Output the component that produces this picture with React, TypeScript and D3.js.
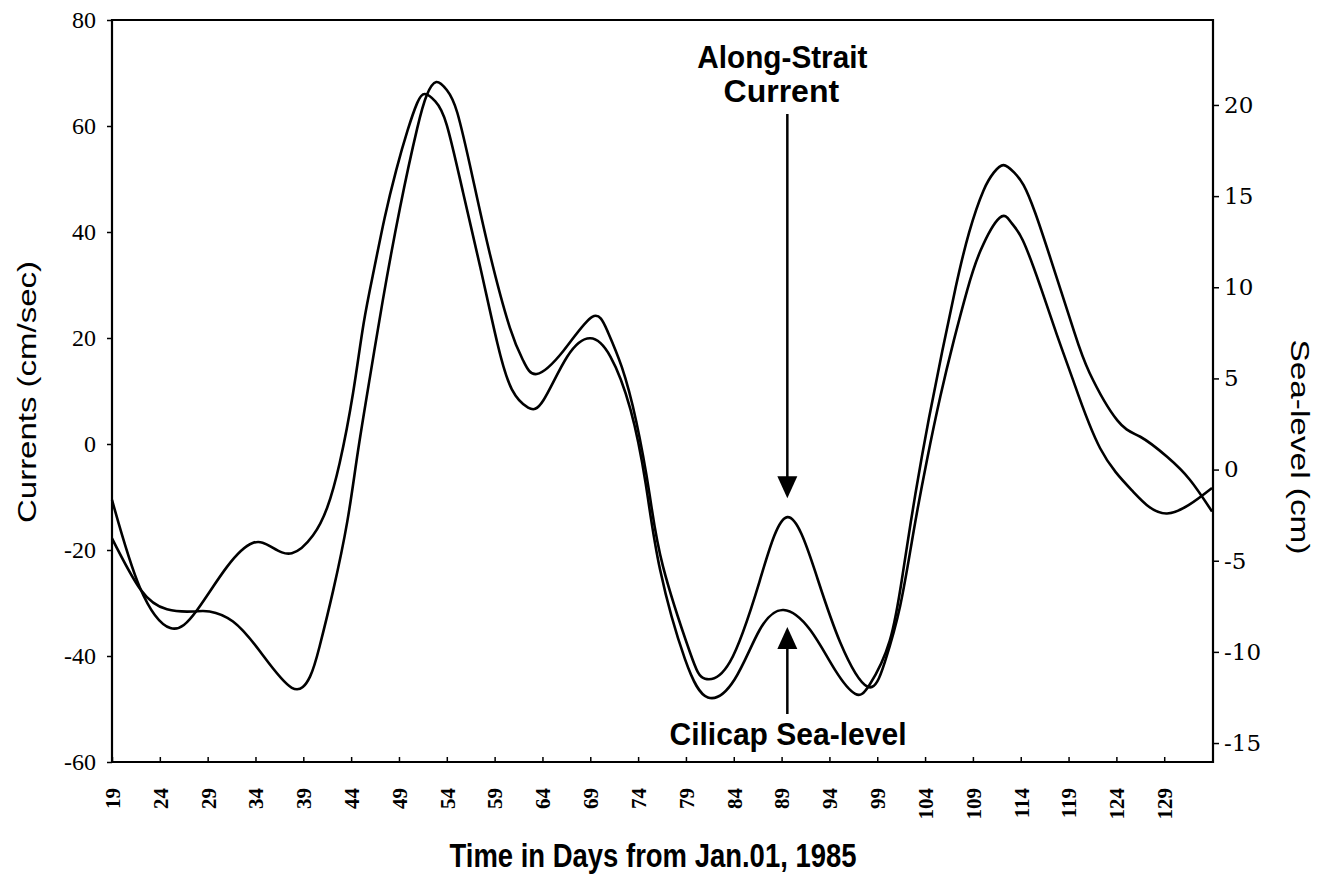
import { useEffect, useRef } from "react";
import * as d3 from "d3";

// Along-Strait current (cm/sec), left axis
const currentDays = [19, 22.0, 24.75, 27.5, 29.2, 31.65, 34.5, 37.8, 39.7, 40.7, 42.1, 43.6, 44.7, 46.0, 47.3, 49.1, 50.9, 51.9, 52.9, 54.0, 55.1, 56.7, 58.5, 60.6, 62.0, 63.4, 66.2, 69.2, 70.8, 72.3, 73.8, 75.2, 76.6, 79.4, 81.0, 83.6, 86.7, 89.6, 92.5, 95.1, 98.0, 99.8, 101.4, 102.8, 104.2, 105.6, 107.0, 108.4, 109.8, 111.8, 113.0, 114.2, 116.0, 117.8, 119.5, 122.3, 125.7, 129.3, 134.0];
const currentValues = [-17.8, -27.5, -31.2, -31.6, -31.6, -33.5, -39.2, -46.0, -43.9, -38.2, -27.8, -14.6, -1.5, 13.0, 27.0, 44.5, 59.5, 65.8, 68.3, 66.8, 62.5, 50.3, 35.9, 21.9, 15.7, 13.2, 17.6, 24.0, 21.3, 14.5, 4.3, -9.5, -23.1, -39.2, -44.3, -41.1, -25.9, -13.8, -24.0, -37.3, -45.8, -41.1, -30.5, -16.5, -3.0, 9.0, 19.5, 29.0, 36.5, 42.7, 41.8, 38.5, 30.0, 20.5, 11.9, -0.8, -8.9, -13.1, -8.3];

// Cilicap sea-level (cm), right axis
const seaLevelDays = [19, 21.9, 25.1, 27.9, 31.0, 33.7, 35.7, 37.8, 40.0, 41.5, 42.8, 44.2, 45.3, 46.4, 47.5, 48.7, 49.9, 50.9, 51.7, 52.8, 54.0, 55.7, 57.5, 59.3, 60.8, 62.5, 64.1, 66.6, 69.0, 71.1, 73.2, 74.8, 76.3, 78.9, 81.3, 84.1, 86.7, 89.2, 92.0, 94.6, 96.7, 98.2, 100.3, 101.7, 103.0, 104.4, 105.8, 107.2, 108.6, 110.1, 111.2, 112.2, 113.3, 114.3, 115.5, 117.1, 119.5, 121.2, 124.1, 126.5, 129.3, 131.7, 134.0];
const seaLevelValues = [-1.66, -6.45, -8.69, -7.7, -5.35, -4.03, -4.25, -4.59, -3.62, -2.08, 0.36, 4.2, 8.0, 11.0, 13.8, 16.4, 18.6, 20.1, 20.6, 20.2, 18.9, 15.2, 11.1, 6.9, 4.4, 3.4, 3.8, 6.2, 7.2, 6.2, 3.3, -0.8, -5.5, -10.4, -12.5, -11.5, -8.8, -7.7, -8.8, -11.0, -12.3, -11.8, -9.4, -5.6, -1.3, 2.8, 6.5, 10.0, 13.0, 15.3, 16.3, 16.7, 16.3, 15.6, 14.1, 11.6, 7.7, 5.3, 2.7, 1.8, 0.7, -0.57, -2.3];

const dayTicks = [19, 24, 29, 34, 39, 44, 49, 54, 59, 64, 69, 74, 79, 84, 89, 94, 99, 104, 109, 114, 119, 124, 129];
const currentTicks = [-60, -40, -20, 0, 20, 40, 60, 80];
const seaLevelTicks = [-15, -10, -5, 0, 5, 10, 15, 20];

const W = 1328;
const H = 878;
const NARROW = "'Liberation Sans Narrow', 'Arial Narrow', 'Liberation Sans', sans-serif";

export default function App() {
    const svgRef = useRef(null);

    useEffect(() => {
        const svg = d3.select(svgRef.current);
        svg.selectAll("*").remove();

        const left = 112, right = 1213, top = 20, bottom = 762;

        const x = d3.scaleLinear().domain([19, 134.1]).range([left, right]);
        const yCur = d3.scaleLinear().domain([-60, 80]).range([bottom, top]);
        const ySea = d3.scaleLinear().domain([-16.04, 24.66]).range([bottom, top]);

        svg.append("rect").attr("width", W).attr("height", H).attr("fill", "#fff");

        // frame
        svg.append("path")
            .attr("d", `M${left},${top}H${right}V${bottom}H${left}Z`)
            .attr("fill", "none")
            .attr("stroke", "#000")
            .attr("stroke-width", 2.2);

        const plain = (d) => String(d); // hyphen minus like the original

        // left axis
        const gL = svg.append("g")
            .attr("transform", `translate(${left},0)`)
            .call(d3.axisLeft(yCur).tickValues(currentTicks).tickFormat(plain)
                .tickSize(5).tickSizeOuter(0).tickPadding(11));
        gL.select(".domain").remove();
        gL.selectAll("line").attr("stroke-width", 1.5);
        gL.selectAll("text")
            .attr("font-family", "'Liberation Serif', serif")
            .attr("font-size", 24)
            .attr("fill", "#000");

        // right axis
        const gR = svg.append("g")
            .attr("transform", `translate(${right},0)`)
            .call(d3.axisRight(ySea).tickValues(seaLevelTicks).tickFormat(plain)
                .tickSize(6).tickSizeOuter(0).tickPadding(5));
        gR.select(".domain").remove();
        gR.selectAll("line").attr("stroke-width", 1.5);
        gR.selectAll("text")
            .attr("font-family", "'DejaVu Serif', serif")
            .attr("font-size", 23)
            .attr("fill", "#000");

        // bottom axis
        const gB = svg.append("g")
            .attr("transform", `translate(0,${bottom})`)
            .call(d3.axisBottom(x).tickValues(dayTicks).tickSize(-5).tickSizeOuter(0));
        gB.select(".domain").remove();
        gB.selectAll("line").attr("stroke-width", 1.5);
        gB.selectAll("text")
            .attr("transform", "rotate(-90)")
            .attr("x", -26)
            .attr("y", 0)
            .attr("dy", "0.35em")
            .attr("text-anchor", "end")
            .attr("font-family", "'Liberation Serif', serif")
            .attr("font-weight", "bold")
            .attr("font-size", 21)
            .attr("fill", "#000");

        // curves
        const curLine = d3.line()
            .x((d) => x(d[0]))
            .y((d) => yCur(d[1]))
            .curve(d3.curveNatural);
        const seaLine = d3.line()
            .x((d) => x(d[0]))
            .y((d) => ySea(d[1]))
            .curve(d3.curveNatural);

        svg.append("path")
            .datum(currentDays.map((d, i) => [d, currentValues[i]]))
            .attr("fill", "none")
            .attr("stroke", "#000")
            .attr("stroke-width", 2.6)
            .attr("d", curLine);

        svg.append("path")
            .datum(seaLevelDays.map((d, i) => [d, seaLevelValues[i]]))
            .attr("fill", "none")
            .attr("stroke", "#000")
            .attr("stroke-width", 2.6)
            .attr("d", seaLine);

        // axis titles
        svg.append("text")
            .attr("transform", `translate(36,392) rotate(-90)`)
            .attr("text-anchor", "middle")
            .attr("font-family", "'Liberation Sans', sans-serif")
            .attr("font-size", 25)
            .attr("textLength", 262)
            .attr("lengthAdjust", "spacingAndGlyphs")
            .text("Currents (cm/sec)");

        svg.append("text")
            .attr("transform", `translate(1291,447) rotate(90)`)
            .attr("text-anchor", "middle")
            .attr("font-family", "'Liberation Sans', sans-serif")
            .attr("font-size", 25)
            .attr("textLength", 215)
            .attr("lengthAdjust", "spacingAndGlyphs")
            .text("Sea-level (cm)");

        svg.append("text")
            .attr("x", 653)
            .attr("y", 867)
            .attr("text-anchor", "middle")
            .attr("font-family", NARROW)
            .attr("font-weight", "bold")
            .attr("font-size", 33)
            .attr("textLength", 407)
            .attr("lengthAdjust", "spacingAndGlyphs")
            .text("Time in Days from Jan.01, 1985");

        // annotations
        const ax = x(89.6);
        const ann = svg.append("g")
            .attr("font-family", NARROW)
            .attr("font-weight", "bold")
            .attr("font-size", 32)
            .attr("text-anchor", "middle");
        ann.append("text").attr("x", ax - 5).attr("y", 68)
            .attr("textLength", 170).attr("lengthAdjust", "spacingAndGlyphs").text("Along-Strait");
        ann.append("text").attr("x", ax - 6).attr("y", 102).text("Current");
        ann.append("text").attr("x", 788).attr("y", 745)
            .attr("textLength", 237).attr("lengthAdjust", "spacingAndGlyphs").text("Cilicap Sea-level");

        const tip1 = yCur(-13.8) - 19;
        svg.append("line").attr("x1", ax).attr("x2", ax).attr("y1", 114).attr("y2", tip1 - 18)
            .attr("stroke", "#000").attr("stroke-width", 2.5);
        svg.append("path")
            .attr("d", `M${ax - 10},${tip1 - 22}L${ax + 10},${tip1 - 22}L${ax},${tip1}Z`)
            .attr("fill", "#000");

        const tip2 = ySea(-7.7) + 17;
        svg.append("line").attr("x1", ax).attr("x2", ax).attr("y1", tip2 + 18).attr("y2", 714)
            .attr("stroke", "#000").attr("stroke-width", 2.5);
        svg.append("path")
            .attr("d", `M${ax - 10},${tip2 + 22}L${ax + 10},${tip2 + 22}L${ax},${tip2}Z`)
            .attr("fill", "#000");
    }, []);

    return (
        <svg
            ref={svgRef}
            width={W}
            height={H}
            style={{ position: "absolute", left: 0, top: 0, display: "block" }}
        />
    );
}
